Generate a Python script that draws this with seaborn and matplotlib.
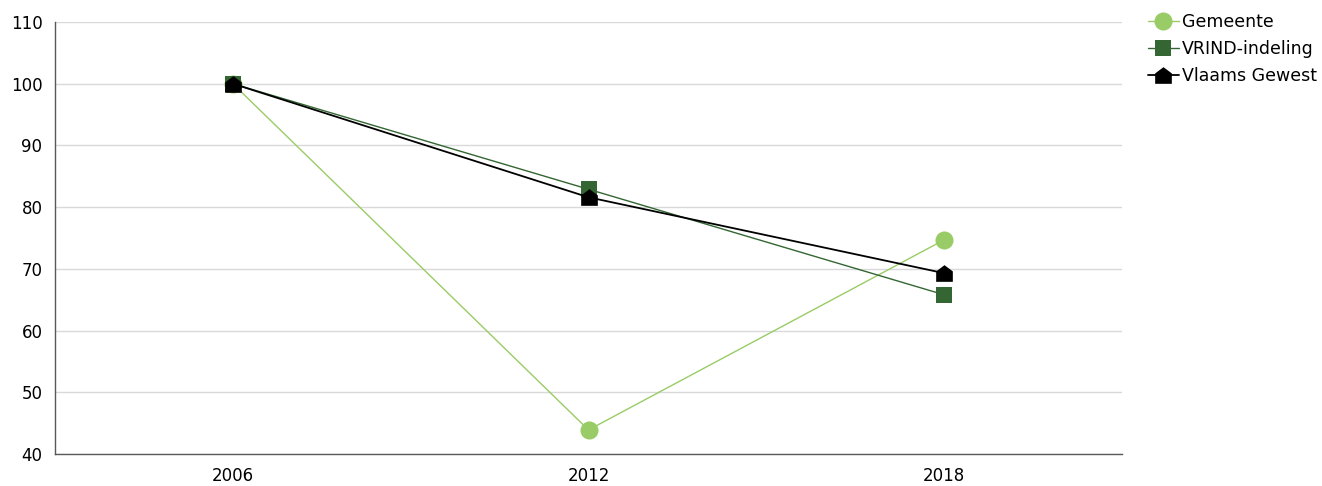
import matplotlib
matplotlib.use("Agg")
import matplotlib.pyplot as plt
from matplotlib.path import Path
import seaborn as sns
import pandas as pd

years = ["2006", "2012", "2018"]
gemeente = [100.0, 43.9, 74.7]
vrind = [100.0, 82.9, 65.8]
vlaams = [100.0, 81.6, 69.3]
series_names = ["Gemeente", "VRIND-indeling", "Vlaams Gewest"]
y_ticks = [40, 50, 60, 70, 80, 90, 100, 110]

sns.set_theme(style="white")
plt.rcParams['font.family'] = ['DejaVu Sans']

house = Path([(-1, -1), (1, -1), (1, 0.25), (0, 1), (-1, 0.25), (-1, -1)],
             [Path.MOVETO, Path.LINETO, Path.LINETO, Path.LINETO, Path.LINETO, Path.CLOSEPOLY])

styles = {
    "Gemeente": dict(color="#99cc66", marker="o", markersize=13, linewidth=1.0),
    "VRIND-indeling": dict(color="#336633", marker="s", markersize=11.5, linewidth=1.0),
    "Vlaams Gewest": dict(color="#000000", marker=house, markersize=12, linewidth=1.3),
}

df = pd.DataFrame({
    "year": years * 3,
    "value": gemeente + vrind + vlaams,
    "series": [series_names[0]] * 3 + [series_names[1]] * 3 + [series_names[2]] * 3,
})

fig = plt.figure(figsize=(13.22, 4.86), dpi=100)
ax = fig.add_axes([55 / 1322, 1 - 454 / 486, (1122 - 55) / 1322, (454 - 22) / 486])

for name in series_names:
    sub = df[df["series"] == name]
    st = styles[name]
    sns.lineplot(data=sub, x="year", y="value", ax=ax, color=st["color"], marker=st["marker"],
                 markersize=st["markersize"], linewidth=st["linewidth"], markeredgewidth=0,
                 label=name, sort=False)

ax.set_xlim(-0.5, 2.5)
ax.set_ylim(40, 110)
ax.set_yticks(y_ticks)
ax.set_xlabel("")
ax.set_ylabel("")
ax.grid(axis="y", color="#d9d9d9", linewidth=1)
ax.grid(axis="x", visible=False)
ax.set_axisbelow(True)
for s in ["top", "right"]:
    ax.spines[s].set_visible(False)
for s in ["left", "bottom"]:
    ax.spines[s].set_color("#595959")
    ax.spines[s].set_linewidth(1)
ax.tick_params(axis="y", length=0, labelsize=12, colors="#000000", pad=9)
ax.tick_params(axis="x", length=0, labelsize=12, colors="#000000", pad=9)

leg = ax.legend(loc="upper left", bbox_to_anchor=(1.024, 1.02), frameon=False, fontsize=12.5,
                handlelength=1.8, handletextpad=0.2, labelspacing=0.5, borderaxespad=0,
                borderpad=0)
for t in leg.get_texts():
    t.set_color("#000000")

fig.savefig("out.png", dpi=100)
